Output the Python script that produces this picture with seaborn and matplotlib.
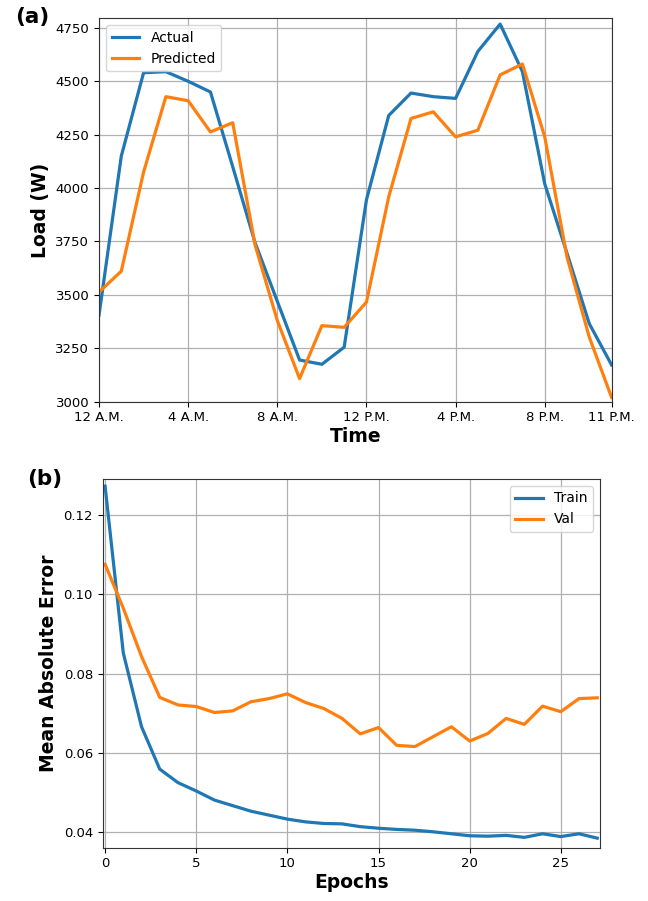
# libraries
import seaborn as sns
import matplotlib.pyplot as plt
import pandas as pd
import numpy as np

# data
hours = list(range(24))
actual = [3405, 4150, 4540, 4545, 4500, 4450, 4100, 3745, 3470, 3195, 3175, 3255,
          3945, 4340, 4445, 4428, 4420, 4640, 4768, 4545, 4020, 3695, 3365, 3172]
predicted = [3513, 3611, 4075, 4428, 4409, 4263, 4306, 3735, 3380, 3108, 3356, 3348,
             3466, 3959, 4326, 4357, 4240, 4271, 4530, 4581, 4240, 3677, 3302, 3020]
hour_ticks = [0, 4, 8, 12, 16, 20, 23]
hour_labels = ["12 A.M.", "4 A.M.", "8 A.M.", "12 P.M.", "4 P.M.", "8 P.M.", "11 P.M."]

epochs = list(range(28))
train_mae = [0.1273, 0.0852, 0.0666, 0.0559, 0.0525, 0.0504, 0.0481, 0.0467, 0.0453, 0.0443,
             0.0433, 0.0426, 0.0422, 0.0421, 0.0414, 0.0410, 0.0407, 0.0405, 0.0401, 0.0396,
             0.0391, 0.0390, 0.0392, 0.0387, 0.0396, 0.0389, 0.0396, 0.0385]
val_mae = [0.1076, 0.0965, 0.0843, 0.0740, 0.0721, 0.0717, 0.0702, 0.0706, 0.0729, 0.0737,
           0.0749, 0.0727, 0.0712, 0.0687, 0.0648, 0.0664, 0.0619, 0.0616, 0.0641, 0.0666,
           0.0630, 0.0649, 0.0687, 0.0672, 0.0718, 0.0704, 0.0737, 0.0739]

load_df = pd.DataFrame({"hour": hours, "Actual": actual, "Predicted": predicted})
mae_df = pd.DataFrame({"epoch": epochs, "Train": train_mae, "Val": val_mae})

blue, orange = "#1f77b4", "#ff7f0e"
lw = 2.3

fig = plt.figure(figsize=(6.48, 9.01), dpi=100)
ax1 = fig.add_axes([0.1528, 0.5542, 0.791, 0.4255])
ax2 = fig.add_axes([0.1585, 0.0592, 0.7674, 0.4092])

# (a) load curve
sns.lineplot(data=load_df, x="hour", y="Actual", color=blue, lw=lw, label="Actual", ax=ax1)
sns.lineplot(data=load_df, x="hour", y="Predicted", color=orange, lw=lw, label="Predicted", ax=ax1)
ax1.set_xlim(0, 23)
ax1.set_ylim(3000, 4795)
ax1.set_yticks(np.arange(3000, 4751, 250))
ax1.set_xticks(hour_ticks)
ax1.set_xticklabels(hour_labels)
ax1.set_xlabel("Time", fontsize=13.5, fontweight="bold", labelpad=2)
ax1.set_ylabel("Load (W)", fontsize=13.5, fontweight="bold")
ax1.legend(loc="upper left", fontsize=10)

# (b) training curve
sns.lineplot(data=mae_df, x="epoch", y="Train", color=blue, lw=lw, label="Train", ax=ax2)
sns.lineplot(data=mae_df, x="epoch", y="Val", color=orange, lw=lw, label="Val", ax=ax2)
ax2.set_xlim(-0.13, 27.15)
ax2.set_ylim(0.0361, 0.1291)
ax2.set_xticks([0, 5, 10, 15, 20, 25])
ax2.set_yticks([0.04, 0.06, 0.08, 0.10, 0.12])
ax2.set_xlabel("Epochs", fontsize=13.5, fontweight="bold", labelpad=2)
ax2.set_ylabel("Mean Absolute Error", fontsize=13.5, fontweight="bold")
ax2.legend(loc="upper right", fontsize=10)

for ax in (ax1, ax2):
    ax.grid(True, color="#b0b0b0", lw=0.9)
    ax.tick_params(labelsize=9.5)
    for s in ax.spines.values():
        s.set_color("#333333")

fig.text(0.023, 0.974, "(a)", fontsize=15.5, fontweight="bold")
fig.text(0.042, 0.462, "(b)", fontsize=15.5, fontweight="bold")

fig.savefig("out.png", dpi=100)
